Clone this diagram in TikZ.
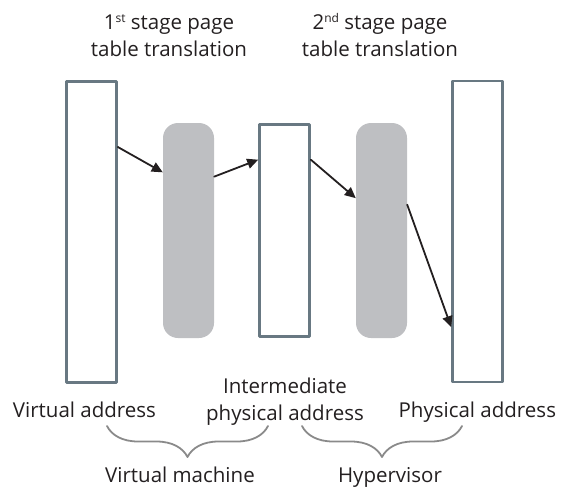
\documentclass[tikz,border=0pt]{standalone}
\usepackage{fontspec}
\setmainfont{Open Sans}
\usetikzlibrary{calc,arrows.meta,decorations.pathreplacing}
\definecolor{boxline}{HTML}{687882}
\definecolor{tablefill}{HTML}{BEBFC2}
\definecolor{bracegray}{HTML}{8A8A8A}
\definecolor{ink}{HTML}{231F20}
\newcommand{\ordsup}[1]{\raisebox{7pt}{\fontsize{12}{12}\selectfont #1}}
\begin{document}
\begin{tikzpicture}[x=1pt, y=-1pt, font=\fontsize{20.5}{27}\selectfont, line join=round, line cap=round,
  >={Triangle[length=11pt,width=10pt]},
  addr/.style={draw=boxline, line width=2.6pt, fill=white, minimum width=50pt, inner sep=0pt},
  ptable/.style={fill=tablefill, rounded corners=15pt, minimum width=51pt, minimum height=215pt, inner sep=0pt},
  arr/.style={->, draw=ink, fill=ink, line width=1.8pt},
  lbl/.style={text=ink, align=center, anchor=base, inner sep=0pt},
  brc/.style={draw=bracegray, line width=1.8pt, decorate, decoration={brace, mirror, amplitude=31pt}}]
\def \tallh{301};
\def \shorth{212};
\useasboundingbox (0,0) rectangle (569,487);
\node[addr, minimum height=\tallh] (va) at (91.5,232) {};
\node[ptable] (pt1) at (188.5,230.5) {};
\node[addr, minimum height=\shorth] (ipa) at (284.5,230.5) {};
\node[ptable] (pt2) at (381.5,230.5) {};
\node[addr, minimum height=\tallh] (pa) at (477.5,231.5) {};
\draw[arr] ($(va.north east)!.22!(va.south east)$) -- ($(pt1.north west)!.23!(pt1.south west)$);
\draw[arr] ($(pt1.north east)!.25!(pt1.south east)$) -- ($(ipa.north west)!.17!(ipa.south west)$);
\draw[arr] ($(ipa.north east)!.17!(ipa.south east)$) -- ($(pt2.north west)!.35!(pt2.south west)$);
\draw[arr] ($(pt2.north east)!.38!(pt2.south east)$) -- ($(pa.north west)!.815!(pa.south west)$);
\node[lbl] (st1) at (169,56.5) {1\ordsup{st} stage page\\table translation};
\node[lbl] (st2) at (380,56.5) {2\ordsup{nd} stage page\\table translation};
\node[lbl] (valbl) at (84.5,417) {Virtual address};
\node[lbl] (ipalbl) at (285,420) {Intermediate\\physical address};
\node[lbl] (palbl) at (477.3,417) {Physical address};
\coordinate (b1l) at (107,426);
\coordinate (b1r) at (268,426);
\coordinate (b2l) at (302,426);
\coordinate (b2r) at (462,426);
\draw[brc] (b1l) -- (b1r);
\draw[brc] (b2l) -- (b2r);
\node[lbl] (vmlbl) at (180,482) {Virtual machine};
\node[lbl] (hvlbl) at (390,482) {Hypervisor};
\end{tikzpicture}
\end{document}
